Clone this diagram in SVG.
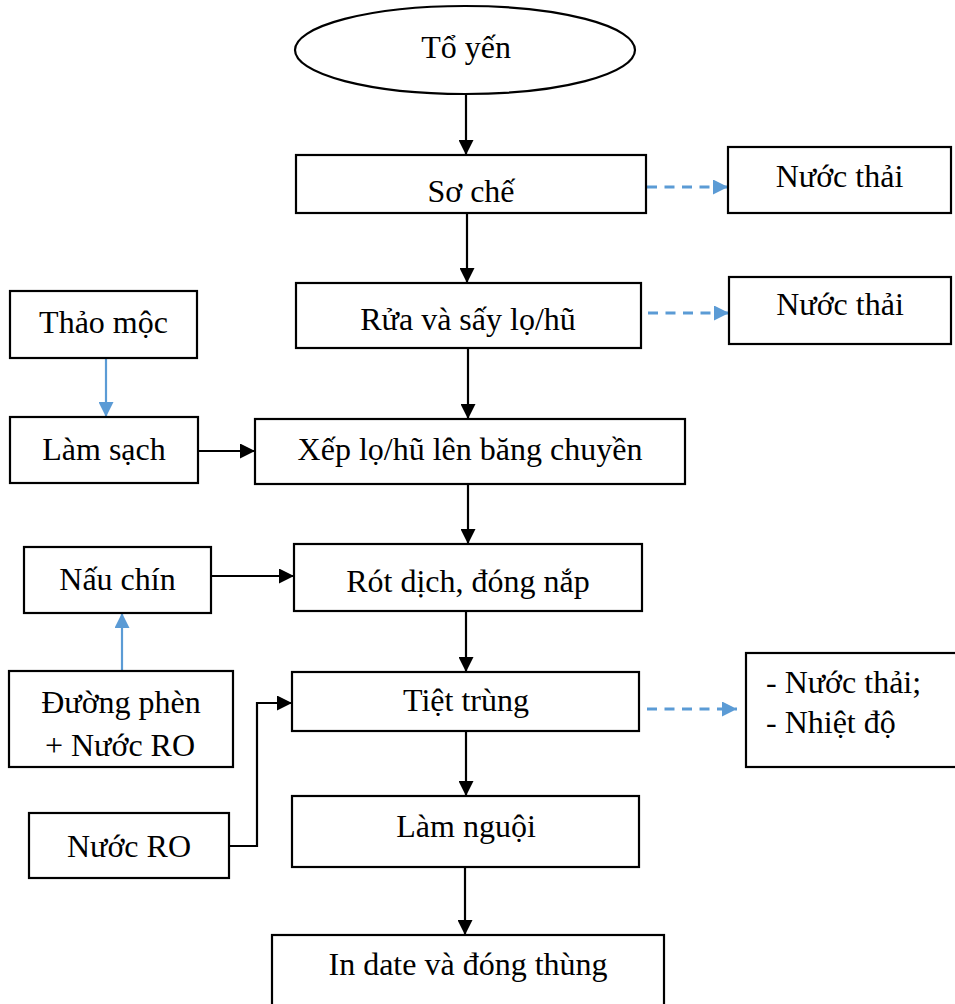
<svg xmlns="http://www.w3.org/2000/svg" width="955" height="1004" viewBox="0 0 955 1004">
<style>
.box{fill:#fff;stroke:#000;stroke-width:2.2}
.t{font-family:"Liberation Serif","Times New Roman",serif;font-size:32px;fill:#000}
.c{text-anchor:middle}
.blk{fill:none;stroke:#000;stroke-width:2.2}
.blue{fill:none;stroke:#5B9BD5;stroke-width:2.2}
.dash{stroke-width:3;stroke-dasharray:10 7.5}
</style>
<defs>
<marker id="ab" markerUnits="userSpaceOnUse" markerWidth="15" markerHeight="15" refX="15" refY="7.5" orient="auto">
<path d="M0,0 L15,7.5 L0,15 Z" fill="#000"/>
</marker>
<marker id="au" markerUnits="userSpaceOnUse" markerWidth="15" markerHeight="15" refX="15" refY="7.5" orient="auto">
<path d="M0,0 L15,7.5 L0,15 Z" fill="#5B9BD5"/>
</marker>
</defs>
<rect width="955" height="1004" fill="#fff"/>
<g id="connectors">
<line class="blk" x1="466" y1="94" x2="466" y2="155" marker-end="url(#ab)"/>
<line class="blk" x1="467" y1="213" x2="467" y2="283" marker-end="url(#ab)"/>
<line class="blk" x1="468" y1="348" x2="468" y2="419" marker-end="url(#ab)"/>
<line class="blk" x1="468" y1="484" x2="468" y2="544" marker-end="url(#ab)"/>
<line class="blk" x1="466" y1="611" x2="466" y2="672" marker-end="url(#ab)"/>
<line class="blk" x1="466" y1="731" x2="466" y2="796" marker-end="url(#ab)"/>
<line class="blk" x1="465" y1="867" x2="465" y2="935" marker-end="url(#ab)"/>
<line class="blk" x1="198" y1="451" x2="255" y2="451" marker-end="url(#ab)"/>
<line class="blk" x1="211" y1="576" x2="294" y2="576" marker-end="url(#ab)"/>
<polyline class="blk" points="229,846 257,846 257,703 292,703" marker-end="url(#ab)"/>
<line class="blue" x1="106" y1="358" x2="106" y2="417" marker-end="url(#au)"/>
<line class="blue" x1="122" y1="671" x2="122" y2="613" marker-end="url(#au)"/>
<line class="blue dash" x1="647" y1="187" x2="728" y2="187" marker-end="url(#au)"/>
<line class="blue dash" x1="648" y1="313" x2="729" y2="313" marker-end="url(#au)"/>
<line class="blue dash" x1="647" y1="709" x2="737" y2="709" marker-end="url(#au)"/>
</g>
<g id="to-yen">
<ellipse class="box" cx="465" cy="50" rx="170" ry="44"/>
<text class="t c" x="466" y="58">Tổ yến</text>
</g>
<g id="so-che">
<rect class="box" x="296" y="155" width="350" height="58"/>
<text class="t c" x="471" y="202">Sơ chế</text>
</g>
<g id="nuoc-thai-1">
<rect class="box" x="728" y="147" width="223" height="66"/>
<text class="t c" x="839.5" y="187">Nước thải</text>
</g>
<g id="rua-say">
<rect class="box" x="296" y="283" width="345" height="65"/>
<text class="t c" x="468" y="330">Rửa và sấy lọ/hũ</text>
</g>
<g id="nuoc-thai-2">
<rect class="box" x="729" y="277" width="222" height="67"/>
<text class="t c" x="840" y="315">Nước thải</text>
</g>
<g id="thao-moc">
<rect class="box" x="10" y="291" width="187" height="67"/>
<text class="t c" x="103.5" y="333">Thảo mộc</text>
</g>
<g id="lam-sach">
<rect class="box" x="10" y="417" width="188" height="66"/>
<text class="t c" x="104" y="460">Làm sạch</text>
</g>
<g id="xep-lo">
<rect class="box" x="255" y="419" width="430" height="65"/>
<text class="t c" x="470" y="460">Xếp lọ/hũ lên băng chuyền</text>
</g>
<g id="nau-chin">
<rect class="box" x="24" y="547" width="187" height="66"/>
<text class="t c" x="117.5" y="590">Nấu chín</text>
</g>
<g id="rot-dich">
<rect class="box" x="294" y="544" width="348" height="67"/>
<text class="t c" x="468" y="592">Rót dịch, đóng nắp</text>
</g>
<g id="duong-phen">
<rect class="box" x="9" y="671" width="224" height="96"/>
<text class="t c" x="121" y="713">Đường phèn</text>
<text class="t c" x="120" y="756">+ Nước RO</text>
</g>
<g id="tiet-trung">
<rect class="box" x="292" y="672" width="347" height="59"/>
<text class="t c" x="466" y="711">Tiệt trùng</text>
</g>
<g id="nuoc-thai-nhiet">
<rect class="box" x="746" y="653" width="215" height="114"/>
<text class="t" x="766" y="693">- Nước thải;</text>
<text class="t" x="766" y="733">- Nhiệt độ</text>
</g>
<g id="nuoc-ro">
<rect class="box" x="29" y="813" width="200" height="65"/>
<text class="t c" x="129" y="857">Nước RO</text>
</g>
<g id="lam-nguoi">
<rect class="box" x="292" y="796" width="347" height="71"/>
<text class="t c" x="466" y="837">Làm nguội</text>
</g>
<g id="in-date">
<rect class="box" x="272" y="935" width="392" height="80"/>
<text class="t c" x="468" y="975">In date và đóng thùng</text>
</g>
</svg>
